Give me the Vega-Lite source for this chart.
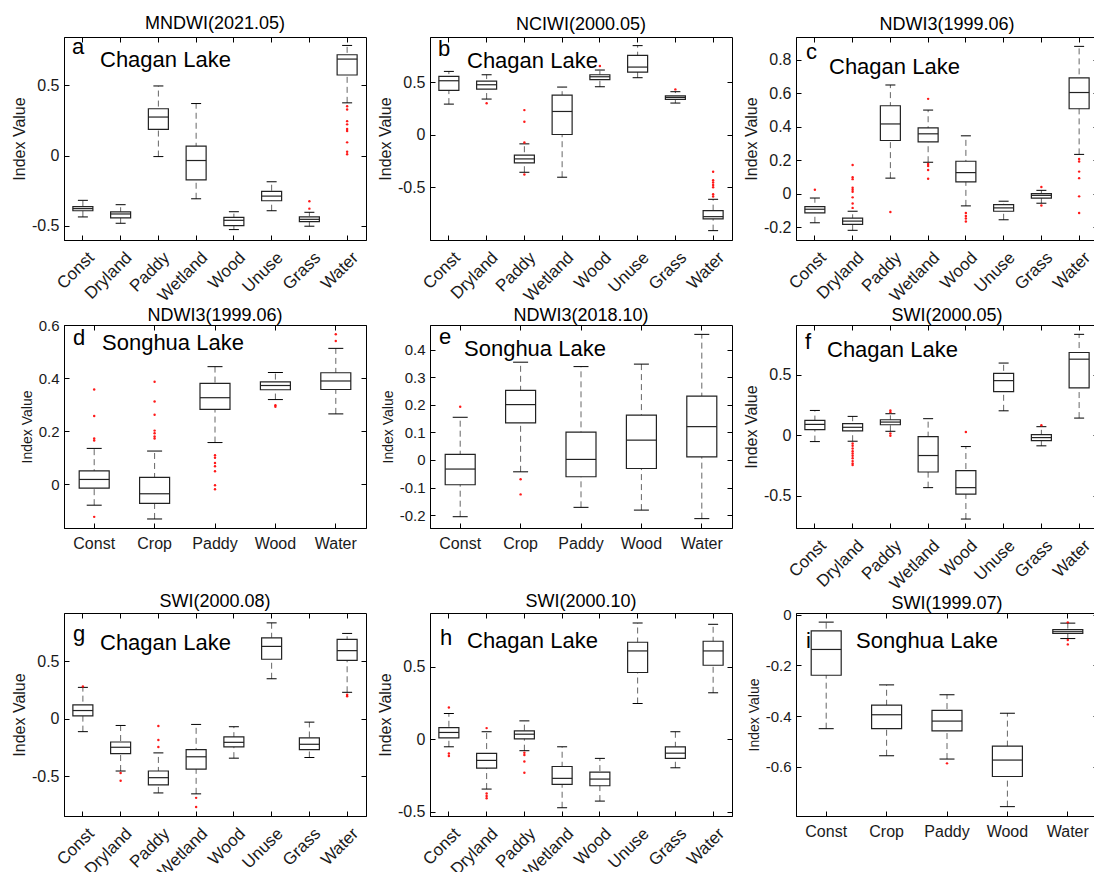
{
"$schema": "https://vega.github.io/schema/vega-lite/v6.json",
"padding": {"left": 10, "top": 14, "right": 0, "bottom": 0},
"background": "white",
"config": {
  "font": "Liberation Sans",
  "view": {"stroke": "#000", "strokeWidth": 1},
  "axis": {"grid": false, "domainColor": "#000", "tickColor": "#000", "tickSize": -5, "labelColor": "#1a1a1a", "titleColor": "#1a1a1a", "titleFontWeight": "normal", "labelFontSize": 16, "titleFontSize": 16, "labelPadding": 10, "titlePadding": 4, "labelFont": "Liberation Sans", "titleFont": "Liberation Sans"},
  "axisX": {"labelPadding": 12},
  "title": {"fontSize": 18, "fontWeight": "normal", "font": "Liberation Sans", "color": "#000", "offset": 0}
},
"datasets": {
"box": [
{"p":"a","c":"Const","lo":-0.436,"q1":-0.392,"md":-0.377,"q3":-0.363,"hi":-0.318},
{"p":"a","c":"Dryland","lo":-0.481,"q1":-0.443,"md":-0.415,"q3":-0.40,"hi":-0.349},
{"p":"a","c":"Paddy","lo":-0.007,"q1":0.186,"md":0.274,"q3":0.333,"hi":0.495},
{"p":"a","c":"Wetland","lo":-0.307,"q1":-0.172,"md":-0.035,"q3":0.068,"hi":0.37},
{"p":"a","c":"Wood","lo":-0.526,"q1":-0.498,"md":-0.46,"q3":-0.439,"hi":-0.399},
{"p":"a","c":"Unuse","lo":-0.392,"q1":-0.321,"md":-0.288,"q3":-0.255,"hi":-0.186},
{"p":"a","c":"Grass","lo":-0.502,"q1":-0.469,"md":-0.453,"q3":-0.436,"hi":-0.403},
{"p":"a","c":"Water","lo":0.375,"q1":0.573,"md":0.686,"q3":0.717,"hi":0.783},
{"p":"b","c":"Const","lo":0.292,"q1":0.422,"md":0.514,"q3":0.556,"hi":0.603},
{"p":"b","c":"Dryland","lo":0.34,"q1":0.435,"md":0.476,"q3":0.511,"hi":0.571},
{"p":"b","c":"Paddy","lo":-0.356,"q1":-0.267,"md":-0.229,"q3":-0.194,"hi":-0.086},
{"p":"b","c":"Wetland","lo":-0.403,"q1":0.003,"md":0.222,"q3":0.378,"hi":0.454},
{"p":"b","c":"Wood","lo":0.457,"q1":0.524,"md":0.552,"q3":0.571,"hi":0.616},
{"p":"b","c":"Unuse","lo":0.543,"q1":0.597,"md":0.644,"q3":0.756,"hi":0.848},
{"p":"b","c":"Grass","lo":0.302,"q1":0.337,"md":0.356,"q3":0.371,"hi":0.41},
{"p":"b","c":"Water","lo":-0.911,"q1":-0.80,"md":-0.778,"q3":-0.72,"hi":-0.613},
{"p":"c","c":"Const","lo":-0.174,"q1":-0.115,"md":-0.093,"q3":-0.077,"hi":-0.026},
{"p":"c","c":"Dryland","lo":-0.219,"q1":-0.184,"md":-0.164,"q3":-0.146,"hi":-0.105},
{"p":"c","c":"Paddy","lo":0.093,"q1":0.318,"md":0.417,"q3":0.526,"hi":0.65},
{"p":"c","c":"Wetland","lo":0.188,"q1":0.31,"md":0.358,"q3":0.393,"hi":0.5},
{"p":"c","c":"Wood","lo":-0.073,"q1":0.071,"md":0.126,"q3":0.194,"hi":0.346},
{"p":"c","c":"Unuse","lo":-0.156,"q1":-0.105,"md":-0.085,"q3":-0.065,"hi":-0.045},
{"p":"c","c":"Grass","lo":-0.057,"q1":-0.026,"md":-0.01,"q3":0.0,"hi":0.02},
{"p":"c","c":"Water","lo":0.235,"q1":0.508,"md":0.605,"q3":0.692,"hi":0.881},
{"p":"d","c":"Const","lo":-0.079,"q1":-0.015,"md":0.018,"q3":0.05,"hi":0.135},
{"p":"d","c":"Crop","lo":-0.131,"q1":-0.072,"md":-0.036,"q3":0.026,"hi":0.125},
{"p":"d","c":"Paddy","lo":0.157,"q1":0.282,"md":0.326,"q3":0.38,"hi":0.443},
{"p":"d","c":"Wood","lo":0.319,"q1":0.356,"md":0.372,"q3":0.386,"hi":0.421},
{"p":"d","c":"Water","lo":0.265,"q1":0.357,"md":0.389,"q3":0.42,"hi":0.512},
{"p":"e","c":"Const","lo":-0.206,"q1":-0.09,"md":-0.033,"q3":0.02,"hi":0.155},
{"p":"e","c":"Crop","lo":-0.043,"q1":0.135,"md":0.201,"q3":0.253,"hi":0.355},
{"p":"e","c":"Paddy","lo":-0.172,"q1":-0.061,"md":0.002,"q3":0.101,"hi":0.339},
{"p":"e","c":"Wood","lo":-0.182,"q1":-0.031,"md":0.072,"q3":0.163,"hi":0.348},
{"p":"e","c":"Water","lo":-0.213,"q1":0.011,"md":0.121,"q3":0.232,"hi":0.456},
{"p":"f","c":"Const","lo":-0.052,"q1":0.046,"md":0.09,"q3":0.123,"hi":0.205},
{"p":"f","c":"Dryland","lo":-0.049,"q1":0.036,"md":0.066,"q3":0.096,"hi":0.156},
{"p":"f","c":"Paddy","lo":0.033,"q1":0.087,"md":0.109,"q3":0.128,"hi":0.178},
{"p":"f","c":"Wetland","lo":-0.432,"q1":-0.303,"md":-0.167,"q3":-0.011,"hi":0.137},
{"p":"f","c":"Wood","lo":-0.691,"q1":-0.486,"md":-0.432,"q3":-0.292,"hi":-0.093},
{"p":"f","c":"Unuse","lo":0.202,"q1":0.361,"md":0.451,"q3":0.511,"hi":0.596},
{"p":"f","c":"Grass","lo":-0.087,"q1":-0.044,"md":-0.019,"q3":0.005,"hi":0.071},
{"p":"f","c":"Water","lo":0.142,"q1":0.391,"md":0.628,"q3":0.683,"hi":0.833},
{"p":"g","c":"Const","lo":-0.112,"q1":0.026,"md":0.072,"q3":0.121,"hi":0.274},
{"p":"g","c":"Dryland","lo":-0.455,"q1":-0.303,"md":-0.248,"q3":-0.202,"hi":-0.058},
{"p":"g","c":"Paddy","lo":-0.646,"q1":-0.576,"md":-0.513,"q3":-0.455,"hi":-0.297},
{"p":"g","c":"Wetland","lo":-0.654,"q1":-0.438,"md":-0.331,"q3":-0.268,"hi":-0.049},
{"p":"g","c":"Wood","lo":-0.343,"q1":-0.245,"md":-0.205,"q3":-0.158,"hi":-0.069},
{"p":"g","c":"Unuse","lo":0.349,"q1":0.519,"md":0.631,"q3":0.706,"hi":0.836},
{"p":"g","c":"Grass","lo":-0.337,"q1":-0.268,"md":-0.222,"q3":-0.167,"hi":-0.029},
{"p":"g","c":"Water","lo":0.231,"q1":0.51,"md":0.594,"q3":0.692,"hi":0.744},
{"p":"h","c":"Const","lo":-0.053,"q1":0.009,"md":0.046,"q3":0.08,"hi":0.177},
{"p":"h","c":"Dryland","lo":-0.345,"q1":-0.2,"md":-0.147,"q3":-0.099,"hi":0.051},
{"p":"h","c":"Paddy","lo":-0.08,"q1":0.002,"md":0.034,"q3":0.057,"hi":0.126},
{"p":"h","c":"Wetland","lo":-0.474,"q1":-0.313,"md":-0.271,"q3":-0.189,"hi":-0.053},
{"p":"h","c":"Wood","lo":-0.428,"q1":-0.322,"md":-0.276,"q3":-0.228,"hi":-0.133},
{"p":"h","c":"Unuse","lo":0.246,"q1":0.46,"md":0.609,"q3":0.669,"hi":0.802},
{"p":"h","c":"Grass","lo":-0.198,"q1":-0.133,"md":-0.097,"q3":-0.053,"hi":0.051},
{"p":"h","c":"Water","lo":0.32,"q1":0.51,"md":0.609,"q3":0.676,"hi":0.793},
{"p":"i","c":"Const","lo":-0.45,"q1":-0.239,"md":-0.137,"q3":-0.064,"hi":-0.029},
{"p":"i","c":"Crop","lo":-0.557,"q1":-0.45,"md":-0.395,"q3":-0.357,"hi":-0.277},
{"p":"i","c":"Paddy","lo":-0.57,"q1":-0.459,"md":-0.42,"q3":-0.378,"hi":-0.316},
{"p":"i","c":"Wood","lo":-0.758,"q1":-0.639,"md":-0.574,"q3":-0.519,"hi":-0.389},
{"p":"i","c":"Water","lo":-0.094,"q1":-0.074,"md":-0.067,"q3":-0.059,"hi":-0.033}
],
"out": [
{"p":"a","c":"Grass","v":-0.325},{"p":"a","c":"Grass","v":-0.377},
{"p":"a","c":"Water","v":0.351},{"p":"a","c":"Water","v":0.328},{"p":"a","c":"Water","v":0.245},{"p":"a","c":"Water","v":0.222},{"p":"a","c":"Water","v":0.189},{"p":"a","c":"Water","v":0.175},{"p":"a","c":"Water","v":0.094},{"p":"a","c":"Water","v":0.028},{"p":"a","c":"Water","v":0.009},
{"p":"b","c":"Dryland","v":0.30},
{"p":"b","c":"Paddy","v":0.235},{"p":"b","c":"Paddy","v":0.124},{"p":"b","c":"Paddy","v":-0.073},{"p":"b","c":"Paddy","v":-0.378},
{"p":"b","c":"Wood","v":0.654},{"p":"b","c":"Grass","v":0.432},
{"p":"b","c":"Water","v":-0.352},{"p":"b","c":"Water","v":-0.432},{"p":"b","c":"Water","v":-0.454},{"p":"b","c":"Water","v":-0.476},{"p":"b","c":"Water","v":-0.498},{"p":"b","c":"Water","v":-0.565},{"p":"b","c":"Water","v":-0.587},
{"p":"c","c":"Const","v":0.024},
{"p":"c","c":"Dryland","v":0.172},{"p":"c","c":"Dryland","v":0.099},{"p":"c","c":"Dryland","v":0.087},{"p":"c","c":"Dryland","v":0.036},{"p":"c","c":"Dryland","v":0.024},{"p":"c","c":"Dryland","v":0.012},{"p":"c","c":"Dryland","v":-0.022},{"p":"c","c":"Dryland","v":-0.059},{"p":"c","c":"Dryland","v":-0.085},
{"p":"c","c":"Paddy","v":-0.109},
{"p":"c","c":"Wetland","v":0.567},{"p":"c","c":"Wetland","v":0.178},{"p":"c","c":"Wetland","v":0.166},{"p":"c","c":"Wetland","v":0.142},{"p":"c","c":"Wetland","v":0.089},
{"p":"c","c":"Wood","v":-0.115},{"p":"c","c":"Wood","v":-0.134},{"p":"c","c":"Wood","v":-0.148},{"p":"c","c":"Wood","v":-0.166},
{"p":"c","c":"Grass","v":0.04},{"p":"c","c":"Grass","v":-0.071},
{"p":"c","c":"Water","v":0.208},{"p":"c","c":"Water","v":0.192},{"p":"c","c":"Water","v":0.132},{"p":"c","c":"Water","v":0.093},{"p":"c","c":"Water","v":-0.016},{"p":"c","c":"Water","v":-0.115},
{"p":"d","c":"Const","v":0.357},{"p":"d","c":"Const","v":0.257},{"p":"d","c":"Const","v":0.172},{"p":"d","c":"Const","v":0.165},{"p":"d","c":"Const","v":-0.123},
{"p":"d","c":"Crop","v":0.386},{"p":"d","c":"Crop","v":0.312},{"p":"d","c":"Crop","v":0.262},{"p":"d","c":"Crop","v":0.202},{"p":"d","c":"Crop","v":0.192},{"p":"d","c":"Crop","v":0.18},{"p":"d","c":"Crop","v":0.172},
{"p":"d","c":"Paddy","v":0.109},{"p":"d","c":"Paddy","v":0.1},{"p":"d","c":"Paddy","v":0.08},{"p":"d","c":"Paddy","v":0.068},{"p":"d","c":"Paddy","v":0.049},{"p":"d","c":"Paddy","v":-0.004},{"p":"d","c":"Paddy","v":-0.019},
{"p":"d","c":"Wood","v":0.298},{"p":"d","c":"Wood","v":0.292},
{"p":"d","c":"Water","v":0.565},{"p":"d","c":"Water","v":0.54},
{"p":"e","c":"Const","v":0.193},{"p":"e","c":"Crop","v":-0.07},{"p":"e","c":"Crop","v":-0.125},
{"p":"f","c":"Dryland","v":-0.068},{"p":"f","c":"Dryland","v":-0.087},{"p":"f","c":"Dryland","v":-0.109},{"p":"f","c":"Dryland","v":-0.131},{"p":"f","c":"Dryland","v":-0.15},{"p":"f","c":"Dryland","v":-0.169},{"p":"f","c":"Dryland","v":-0.19},{"p":"f","c":"Dryland","v":-0.213},{"p":"f","c":"Dryland","v":-0.232},{"p":"f","c":"Dryland","v":-0.246},
{"p":"f","c":"Paddy","v":0.205},{"p":"f","c":"Paddy","v":0.191},{"p":"f","c":"Paddy","v":0.014},{"p":"f","c":"Paddy","v":-0.003},
{"p":"f","c":"Wood","v":0.027},{"p":"f","c":"Grass","v":0.082},
{"p":"g","c":"Const","v":0.282},
{"p":"g","c":"Dryland","v":-0.473},{"p":"g","c":"Dryland","v":-0.539},
{"p":"g","c":"Paddy","v":-0.063},{"p":"g","c":"Paddy","v":-0.184},{"p":"g","c":"Paddy","v":-0.245},
{"p":"g","c":"Wetland","v":-0.689},{"p":"g","c":"Wetland","v":-0.769},
{"p":"g","c":"Water","v":0.21},{"p":"g","c":"Water","v":0.196},
{"p":"h","c":"Const","v":0.218},{"p":"h","c":"Const","v":-0.099},{"p":"h","c":"Const","v":-0.117},
{"p":"h","c":"Dryland","v":0.076},{"p":"h","c":"Dryland","v":-0.375},{"p":"h","c":"Dryland","v":-0.393},{"p":"h","c":"Dryland","v":-0.409},
{"p":"h","c":"Paddy","v":-0.094},{"p":"h","c":"Paddy","v":-0.11},{"p":"h","c":"Paddy","v":-0.154},{"p":"h","c":"Paddy","v":-0.232},
{"p":"i","c":"Paddy","v":-0.587},
{"p":"i","c":"Water","v":-0.03},{"p":"i","c":"Water","v":-0.1},{"p":"i","c":"Water","v":-0.117}
],
"lab": [
{"p":"a","t":"a","lake":"Chagan Lake"},{"p":"b","t":"b","lake":"Chagan Lake"},{"p":"c","t":"c","lake":"Chagan Lake"},
{"p":"d","t":"d","lake":"Songhua Lake"},{"p":"e","t":"e","lake":"Songhua Lake"},{"p":"f","t":"f","lake":"Chagan Lake"},
{"p":"g","t":"g","lake":"Chagan Lake"},{"p":"h","t":"h","lake":"Chagan Lake"},{"p":"i","t":"i","lake":"Songhua Lake"}
]
},
"columns": 3,
"spacing": {"row": 85, "column": 64},
"bounds": "flush",
"concat": [
{"width":302,"height":203,"title":{"text":"MNDWI(2021.05)","offset":3},"resolve":{"axis":{"x":"independent","y":"independent"}},
"layer":[
{"data":{"name":"box"},"transform":[{"filter":"datum.p=='a'"}],"mark":{"type":"rule","color":"#666","strokeDash":[6,4],"strokeWidth":1},
"encoding":{"x":{"field":"c","type":"nominal","scale":{"type":"band","domain":["Const","Dryland","Paddy","Wetland","Wood","Unuse","Grass","Water"],"paddingInner":0,"paddingOuter":0},"axis":{"title":null,"labelAngle":-45,"labelAlign":"right","labelBaseline":"top","labelFontSize":17,"labelOffset":3,"labelPadding":14}},
"y":{"field":"lo","type":"quantitative","scale":{"domain":[-0.6,0.843],"nice":false,"zero":false},"axis":{"title":"Index Value","values":[-0.5,0,0.5],"labelExpr":"toString(datum.value)"}},"y2":{"field":"hi"}}},
{"data":{"name":"box"},"transform":[{"filter":"datum.p=='a'"}],"mark":{"type":"bar","fill":"#fff","stroke":"#222","strokeWidth":1.2,"size":20,"opacity":1},
"encoding":{"x":{"field":"c","type":"nominal","axis":{"orient":"top","labels":false,"title":null,"domain":false}},"y":{"field":"q1","type":"quantitative","axis":{"orient":"right","labels":false,"title":null,"domain":false,"values":[-0.5,0,0.5]}},"y2":{"field":"q3"}}},
{"data":{"name":"box"},"transform":[{"filter":"datum.p=='a'"}],"mark":{"type":"tick","color":"#222","size":20,"thickness":1.2,"opacity":1},
"encoding":{"x":{"field":"c","type":"nominal","axis":null},"y":{"field":"md","type":"quantitative","axis":null}}},
{"data":{"name":"box"},"transform":[{"filter":"datum.p=='a'"},{"fold":["lo","hi"]}],"mark":{"type":"tick","color":"#000","size":10,"thickness":1,"opacity":1},
"encoding":{"x":{"field":"c","type":"nominal","axis":null},"y":{"field":"value","type":"quantitative","axis":null}}},
{"data":{"name":"out"},"transform":[{"filter":"datum.p=='a'"}],"mark":{"type":"point","filled":true,"color":"#ff0000","size":6,"opacity":0.9},
"encoding":{"x":{"field":"c","type":"nominal","axis":null},"y":{"field":"v","type":"quantitative","axis":null}}},
{"data":{"name":"lab"},"transform":[{"filter":"datum.p=='a'"}],"mark":{"type":"text","align":"left","baseline":"alphabetic","fontSize":22,"color":"#000","dx":8,"dy":17},
"encoding":{"x":{"datum":"Const","type":"nominal","bandPosition":0,"axis":null},"y":{"datum":0.843,"type":"quantitative","axis":null},"text":{"field":"t"}}},
{"data":{"name":"lab"},"transform":[{"filter":"datum.p=='a'"}],"mark":{"type":"text","align":"left","baseline":"alphabetic","fontSize":22,"color":"#000","dx":36,"dy":30},
"encoding":{"x":{"datum":"Const","type":"nominal","bandPosition":0,"axis":null},"y":{"datum":0.843,"type":"quantitative","axis":null},"text":{"field":"lake"}}}
]},
{"width":302,"height":203,"title":{"text":"NCIWI(2000.05)","offset":3},"resolve":{"axis":{"x":"independent","y":"independent"}},
"layer":[
{"data":{"name":"box"},"transform":[{"filter":"datum.p=='b'"}],"mark":{"type":"rule","color":"#666","strokeDash":[6,4],"strokeWidth":1},
"encoding":{"x":{"field":"c","type":"nominal","scale":{"type":"band","domain":["Const","Dryland","Paddy","Wetland","Wood","Unuse","Grass","Water"],"paddingInner":0,"paddingOuter":0},"axis":{"title":null,"labelAngle":-45,"labelAlign":"right","labelBaseline":"top","labelFontSize":17,"labelOffset":3,"labelPadding":14}},
"y":{"field":"lo","type":"quantitative","scale":{"domain":[-1.0,0.93],"nice":false,"zero":false},"axis":{"title":"Index Value","values":[-0.5,0,0.5],"labelExpr":"toString(datum.value)"}},"y2":{"field":"hi"}}},
{"data":{"name":"box"},"transform":[{"filter":"datum.p=='b'"}],"mark":{"type":"bar","fill":"#fff","stroke":"#222","strokeWidth":1.2,"size":20,"opacity":1},
"encoding":{"x":{"field":"c","type":"nominal","axis":{"orient":"top","labels":false,"title":null,"domain":false}},"y":{"field":"q1","type":"quantitative","axis":{"orient":"right","labels":false,"title":null,"domain":false,"values":[-0.5,0,0.5]}},"y2":{"field":"q3"}}},
{"data":{"name":"box"},"transform":[{"filter":"datum.p=='b'"}],"mark":{"type":"tick","color":"#222","size":20,"thickness":1.2,"opacity":1},
"encoding":{"x":{"field":"c","type":"nominal","axis":null},"y":{"field":"md","type":"quantitative","axis":null}}},
{"data":{"name":"box"},"transform":[{"filter":"datum.p=='b'"},{"fold":["lo","hi"]}],"mark":{"type":"tick","color":"#000","size":10,"thickness":1,"opacity":1},
"encoding":{"x":{"field":"c","type":"nominal","axis":null},"y":{"field":"value","type":"quantitative","axis":null}}},
{"data":{"name":"out"},"transform":[{"filter":"datum.p=='b'"}],"mark":{"type":"point","filled":true,"color":"#ff0000","size":6,"opacity":0.9},
"encoding":{"x":{"field":"c","type":"nominal","axis":null},"y":{"field":"v","type":"quantitative","axis":null}}},
{"data":{"name":"lab"},"transform":[{"filter":"datum.p=='b'"}],"mark":{"type":"text","align":"left","baseline":"alphabetic","fontSize":22,"color":"#000","dx":8,"dy":19},
"encoding":{"x":{"datum":"Const","type":"nominal","bandPosition":0,"axis":null},"y":{"datum":0.93,"type":"quantitative","axis":null},"text":{"field":"t"}}},
{"data":{"name":"lab"},"transform":[{"filter":"datum.p=='b'"}],"mark":{"type":"text","align":"left","baseline":"alphabetic","fontSize":22,"color":"#000","dx":37,"dy":31},
"encoding":{"x":{"datum":"Const","type":"nominal","bandPosition":0,"axis":null},"y":{"datum":0.93,"type":"quantitative","axis":null},"text":{"field":"lake"}}}
]},
{"width":302,"height":203,"title":{"text":"NDWI3(1999.06)","offset":3},"resolve":{"axis":{"x":"independent","y":"independent"}},
"layer":[
{"data":{"name":"box"},"transform":[{"filter":"datum.p=='c'"}],"mark":{"type":"rule","color":"#666","strokeDash":[6,4],"strokeWidth":1},
"encoding":{"x":{"field":"c","type":"nominal","scale":{"type":"band","domain":["Const","Dryland","Paddy","Wetland","Wood","Unuse","Grass","Water"],"paddingInner":0,"paddingOuter":0},"axis":{"title":null,"labelAngle":-45,"labelAlign":"right","labelBaseline":"top","labelFontSize":17,"labelOffset":3,"labelPadding":14}},
"y":{"field":"lo","type":"quantitative","scale":{"domain":[-0.277,0.937],"nice":false,"zero":false},"axis":{"title":"Index Value","values":[-0.2,0,0.2,0.4,0.6,0.8],"labelExpr":"toString(datum.value)"}},"y2":{"field":"hi"}}},
{"data":{"name":"box"},"transform":[{"filter":"datum.p=='c'"}],"mark":{"type":"bar","fill":"#fff","stroke":"#222","strokeWidth":1.2,"size":20,"opacity":1},
"encoding":{"x":{"field":"c","type":"nominal","axis":{"orient":"top","labels":false,"title":null,"domain":false}},"y":{"field":"q1","type":"quantitative","axis":{"orient":"right","labels":false,"title":null,"domain":false,"values":[-0.2,0,0.2,0.4,0.6,0.8]}},"y2":{"field":"q3"}}},
{"data":{"name":"box"},"transform":[{"filter":"datum.p=='c'"}],"mark":{"type":"tick","color":"#222","size":20,"thickness":1.2,"opacity":1},
"encoding":{"x":{"field":"c","type":"nominal","axis":null},"y":{"field":"md","type":"quantitative","axis":null}}},
{"data":{"name":"box"},"transform":[{"filter":"datum.p=='c'"},{"fold":["lo","hi"]}],"mark":{"type":"tick","color":"#000","size":10,"thickness":1,"opacity":1},
"encoding":{"x":{"field":"c","type":"nominal","axis":null},"y":{"field":"value","type":"quantitative","axis":null}}},
{"data":{"name":"out"},"transform":[{"filter":"datum.p=='c'"}],"mark":{"type":"point","filled":true,"color":"#ff0000","size":6,"opacity":0.9},
"encoding":{"x":{"field":"c","type":"nominal","axis":null},"y":{"field":"v","type":"quantitative","axis":null}}},
{"data":{"name":"lab"},"transform":[{"filter":"datum.p=='c'"}],"mark":{"type":"text","align":"left","baseline":"alphabetic","fontSize":22,"color":"#000","dx":10,"dy":22},
"encoding":{"x":{"datum":"Const","type":"nominal","bandPosition":0,"axis":null},"y":{"datum":0.937,"type":"quantitative","axis":null},"text":{"field":"t"}}},
{"data":{"name":"lab"},"transform":[{"filter":"datum.p=='c'"}],"mark":{"type":"text","align":"left","baseline":"alphabetic","fontSize":22,"color":"#000","dx":33,"dy":37},
"encoding":{"x":{"datum":"Const","type":"nominal","bandPosition":0,"axis":null},"y":{"datum":0.937,"type":"quantitative","axis":null},"text":{"field":"lake"}}}
]},
{"width":302,"height":203,"title":{"text":"NDWI3(1999.06)","offset":-7},"resolve":{"axis":{"x":"independent","y":"independent"}},
"layer":[
{"data":{"name":"box"},"transform":[{"filter":"datum.p=='d'"}],"mark":{"type":"rule","color":"#666","strokeDash":[6,4],"strokeWidth":1},
"encoding":{"x":{"field":"c","type":"nominal","scale":{"type":"band","domain":["Const","Crop","Paddy","Wood","Water"],"paddingInner":0,"paddingOuter":0},"axis":{"title":null,"labelAngle":0,"labelAlign":"center","labelBaseline":"top","labelFontSize":16}},
"y":{"field":"lo","type":"quantitative","scale":{"domain":[-0.165,0.6],"nice":false,"zero":false},"axis":{"title":"Index Value","titleFontSize":14,"labelFontSize":15,"values":[0,0.2,0.4,0.6],"labelExpr":"toString(datum.value)"}},"y2":{"field":"hi"}}},
{"data":{"name":"box"},"transform":[{"filter":"datum.p=='d'"}],"mark":{"type":"bar","fill":"#fff","stroke":"#222","strokeWidth":1.2,"size":30,"opacity":1},
"encoding":{"x":{"field":"c","type":"nominal","axis":{"orient":"top","labels":false,"title":null,"domain":false}},"y":{"field":"q1","type":"quantitative","axis":{"orient":"right","labels":false,"title":null,"domain":false,"values":[0,0.2,0.4,0.6]}},"y2":{"field":"q3"}}},
{"data":{"name":"box"},"transform":[{"filter":"datum.p=='d'"}],"mark":{"type":"tick","color":"#222","size":30,"thickness":1.2,"opacity":1},
"encoding":{"x":{"field":"c","type":"nominal","axis":null},"y":{"field":"md","type":"quantitative","axis":null}}},
{"data":{"name":"box"},"transform":[{"filter":"datum.p=='d'"},{"fold":["lo","hi"]}],"mark":{"type":"tick","color":"#000","size":15,"thickness":1,"opacity":1},
"encoding":{"x":{"field":"c","type":"nominal","axis":null},"y":{"field":"value","type":"quantitative","axis":null}}},
{"data":{"name":"out"},"transform":[{"filter":"datum.p=='d'"}],"mark":{"type":"point","filled":true,"color":"#ff0000","size":6,"opacity":0.9},
"encoding":{"x":{"field":"c","type":"nominal","axis":null},"y":{"field":"v","type":"quantitative","axis":null}}},
{"data":{"name":"lab"},"transform":[{"filter":"datum.p=='d'"}],"mark":{"type":"text","align":"left","baseline":"alphabetic","fontSize":22,"color":"#000","dx":9,"dy":20},
"encoding":{"x":{"datum":"Const","type":"nominal","bandPosition":0,"axis":null},"y":{"datum":0.6,"type":"quantitative","axis":null},"text":{"field":"t"}}},
{"data":{"name":"lab"},"transform":[{"filter":"datum.p=='d'"}],"mark":{"type":"text","align":"left","baseline":"alphabetic","fontSize":22,"color":"#000","dx":38,"dy":25},
"encoding":{"x":{"datum":"Const","type":"nominal","bandPosition":0,"axis":null},"y":{"datum":0.6,"type":"quantitative","axis":null},"text":{"field":"lake"}}}
]},
{"width":302,"height":203,"title":{"text":"NDWI3(2018.10)","offset":0},"resolve":{"axis":{"x":"independent","y":"independent"}},
"layer":[
{"data":{"name":"box"},"transform":[{"filter":"datum.p=='e'"}],"mark":{"type":"rule","color":"#666","strokeDash":[6,4],"strokeWidth":1},
"encoding":{"x":{"field":"c","type":"nominal","scale":{"type":"band","domain":["Const","Crop","Paddy","Wood","Water"],"paddingInner":0,"paddingOuter":0},"axis":{"title":null,"labelAngle":0,"labelAlign":"center","labelBaseline":"top","labelFontSize":16}},
"y":{"field":"lo","type":"quantitative","scale":{"domain":[-0.247,0.49],"nice":false,"zero":false},"axis":{"title":"Index Value","titleFontSize":14,"labelFontSize":15,"values":[-0.2,-0.1,0,0.1,0.2,0.3,0.4],"labelExpr":"toString(datum.value)"}},"y2":{"field":"hi"}}},
{"data":{"name":"box"},"transform":[{"filter":"datum.p=='e'"}],"mark":{"type":"bar","fill":"#fff","stroke":"#222","strokeWidth":1.2,"size":30,"opacity":1},
"encoding":{"x":{"field":"c","type":"nominal","axis":{"orient":"top","labels":false,"title":null,"domain":false}},"y":{"field":"q1","type":"quantitative","axis":{"orient":"right","labels":false,"title":null,"domain":false,"values":[-0.2,-0.1,0,0.1,0.2,0.3,0.4]}},"y2":{"field":"q3"}}},
{"data":{"name":"box"},"transform":[{"filter":"datum.p=='e'"}],"mark":{"type":"tick","color":"#222","size":30,"thickness":1.2,"opacity":1},
"encoding":{"x":{"field":"c","type":"nominal","axis":null},"y":{"field":"md","type":"quantitative","axis":null}}},
{"data":{"name":"box"},"transform":[{"filter":"datum.p=='e'"},{"fold":["lo","hi"]}],"mark":{"type":"tick","color":"#000","size":15,"thickness":1,"opacity":1},
"encoding":{"x":{"field":"c","type":"nominal","axis":null},"y":{"field":"value","type":"quantitative","axis":null}}},
{"data":{"name":"out"},"transform":[{"filter":"datum.p=='e'"}],"mark":{"type":"point","filled":true,"color":"#ff0000","size":6,"opacity":0.9},
"encoding":{"x":{"field":"c","type":"nominal","axis":null},"y":{"field":"v","type":"quantitative","axis":null}}},
{"data":{"name":"lab"},"transform":[{"filter":"datum.p=='e'"}],"mark":{"type":"text","align":"left","baseline":"alphabetic","fontSize":22,"color":"#000","dx":9,"dy":19},
"encoding":{"x":{"datum":"Const","type":"nominal","bandPosition":0,"axis":null},"y":{"datum":0.49,"type":"quantitative","axis":null},"text":{"field":"t"}}},
{"data":{"name":"lab"},"transform":[{"filter":"datum.p=='e'"}],"mark":{"type":"text","align":"left","baseline":"alphabetic","fontSize":22,"color":"#000","dx":34,"dy":31},
"encoding":{"x":{"datum":"Const","type":"nominal","bandPosition":0,"axis":null},"y":{"datum":0.49,"type":"quantitative","axis":null},"text":{"field":"lake"}}}
]},
{"width":302,"height":203,"title":{"text":"SWI(2000.05)","offset":0},"resolve":{"axis":{"x":"independent","y":"independent"}},
"layer":[
{"data":{"name":"box"},"transform":[{"filter":"datum.p=='f'"}],"mark":{"type":"rule","color":"#666","strokeDash":[6,4],"strokeWidth":1},
"encoding":{"x":{"field":"c","type":"nominal","scale":{"type":"band","domain":["Const","Dryland","Paddy","Wetland","Wood","Unuse","Grass","Water"],"paddingInner":0,"paddingOuter":0},"axis":{"title":null,"labelAngle":-45,"labelAlign":"right","labelBaseline":"top","labelFontSize":17,"labelOffset":3,"labelPadding":14}},
"y":{"field":"lo","type":"quantitative","scale":{"domain":[-0.765,0.91],"nice":false,"zero":false},"axis":{"title":"Index Value","values":[-0.5,0,0.5],"labelExpr":"toString(datum.value)"}},"y2":{"field":"hi"}}},
{"data":{"name":"box"},"transform":[{"filter":"datum.p=='f'"}],"mark":{"type":"bar","fill":"#fff","stroke":"#222","strokeWidth":1.2,"size":20,"opacity":1},
"encoding":{"x":{"field":"c","type":"nominal","axis":{"orient":"top","labels":false,"title":null,"domain":false}},"y":{"field":"q1","type":"quantitative","axis":{"orient":"right","labels":false,"title":null,"domain":false,"values":[-0.5,0,0.5]}},"y2":{"field":"q3"}}},
{"data":{"name":"box"},"transform":[{"filter":"datum.p=='f'"}],"mark":{"type":"tick","color":"#222","size":20,"thickness":1.2,"opacity":1},
"encoding":{"x":{"field":"c","type":"nominal","axis":null},"y":{"field":"md","type":"quantitative","axis":null}}},
{"data":{"name":"box"},"transform":[{"filter":"datum.p=='f'"},{"fold":["lo","hi"]}],"mark":{"type":"tick","color":"#000","size":10,"thickness":1,"opacity":1},
"encoding":{"x":{"field":"c","type":"nominal","axis":null},"y":{"field":"value","type":"quantitative","axis":null}}},
{"data":{"name":"out"},"transform":[{"filter":"datum.p=='f'"}],"mark":{"type":"point","filled":true,"color":"#ff0000","size":6,"opacity":0.9},
"encoding":{"x":{"field":"c","type":"nominal","axis":null},"y":{"field":"v","type":"quantitative","axis":null}}},
{"data":{"name":"lab"},"transform":[{"filter":"datum.p=='f'"}],"mark":{"type":"text","align":"left","baseline":"alphabetic","fontSize":22,"color":"#000","dx":9,"dy":24},
"encoding":{"x":{"datum":"Const","type":"nominal","bandPosition":0,"axis":null},"y":{"datum":0.91,"type":"quantitative","axis":null},"text":{"field":"t"}}},
{"data":{"name":"lab"},"transform":[{"filter":"datum.p=='f'"}],"mark":{"type":"text","align":"left","baseline":"alphabetic","fontSize":22,"color":"#000","dx":31,"dy":32},
"encoding":{"x":{"datum":"Const","type":"nominal","bandPosition":0,"axis":null},"y":{"datum":0.91,"type":"quantitative","axis":null},"text":{"field":"lake"}}}
]},
{"width":302,"height":203,"title":{"text":"SWI(2000.08)","offset":2},"resolve":{"axis":{"x":"independent","y":"independent"}},
"layer":[
{"data":{"name":"box"},"transform":[{"filter":"datum.p=='g'"}],"mark":{"type":"rule","color":"#666","strokeDash":[6,4],"strokeWidth":1},
"encoding":{"x":{"field":"c","type":"nominal","scale":{"type":"band","domain":["Const","Dryland","Paddy","Wetland","Wood","Unuse","Grass","Water"],"paddingInner":0,"paddingOuter":0},"axis":{"title":null,"labelAngle":-45,"labelAlign":"right","labelBaseline":"top","labelFontSize":17,"labelOffset":3,"labelPadding":14}},
"y":{"field":"lo","type":"quantitative","scale":{"domain":[-0.847,0.922],"nice":false,"zero":false},"axis":{"title":"Index Value","values":[-0.5,0,0.5],"labelExpr":"toString(datum.value)"}},"y2":{"field":"hi"}}},
{"data":{"name":"box"},"transform":[{"filter":"datum.p=='g'"}],"mark":{"type":"bar","fill":"#fff","stroke":"#222","strokeWidth":1.2,"size":20,"opacity":1},
"encoding":{"x":{"field":"c","type":"nominal","axis":{"orient":"top","labels":false,"title":null,"domain":false}},"y":{"field":"q1","type":"quantitative","axis":{"orient":"right","labels":false,"title":null,"domain":false,"values":[-0.5,0,0.5]}},"y2":{"field":"q3"}}},
{"data":{"name":"box"},"transform":[{"filter":"datum.p=='g'"}],"mark":{"type":"tick","color":"#222","size":20,"thickness":1.2,"opacity":1},
"encoding":{"x":{"field":"c","type":"nominal","axis":null},"y":{"field":"md","type":"quantitative","axis":null}}},
{"data":{"name":"box"},"transform":[{"filter":"datum.p=='g'"},{"fold":["lo","hi"]}],"mark":{"type":"tick","color":"#000","size":10,"thickness":1,"opacity":1},
"encoding":{"x":{"field":"c","type":"nominal","axis":null},"y":{"field":"value","type":"quantitative","axis":null}}},
{"data":{"name":"out"},"transform":[{"filter":"datum.p=='g'"}],"mark":{"type":"point","filled":true,"color":"#ff0000","size":6,"opacity":0.9},
"encoding":{"x":{"field":"c","type":"nominal","axis":null},"y":{"field":"v","type":"quantitative","axis":null}}},
{"data":{"name":"lab"},"transform":[{"filter":"datum.p=='g'"}],"mark":{"type":"text","align":"left","baseline":"alphabetic","fontSize":22,"color":"#000","dx":9,"dy":28},
"encoding":{"x":{"datum":"Const","type":"nominal","bandPosition":0,"axis":null},"y":{"datum":0.922,"type":"quantitative","axis":null},"text":{"field":"t"}}},
{"data":{"name":"lab"},"transform":[{"filter":"datum.p=='g'"}],"mark":{"type":"text","align":"left","baseline":"alphabetic","fontSize":22,"color":"#000","dx":36,"dy":37},
"encoding":{"x":{"datum":"Const","type":"nominal","bandPosition":0,"axis":null},"y":{"datum":0.922,"type":"quantitative","axis":null},"text":{"field":"lake"}}}
]},
{"width":302,"height":203,"title":{"text":"SWI(2000.10)","offset":2},"resolve":{"axis":{"x":"independent","y":"independent"}},
"layer":[
{"data":{"name":"box"},"transform":[{"filter":"datum.p=='h'"}],"mark":{"type":"rule","color":"#666","strokeDash":[6,4],"strokeWidth":1},
"encoding":{"x":{"field":"c","type":"nominal","scale":{"type":"band","domain":["Const","Dryland","Paddy","Wetland","Wood","Unuse","Grass","Water"],"paddingInner":0,"paddingOuter":0},"axis":{"title":null,"labelAngle":-45,"labelAlign":"right","labelBaseline":"top","labelFontSize":17,"labelOffset":3,"labelPadding":14}},
"y":{"field":"lo","type":"quantitative","scale":{"domain":[-0.531,0.871],"nice":false,"zero":false},"axis":{"title":"Index Value","values":[-0.5,0,0.5],"labelExpr":"toString(datum.value)"}},"y2":{"field":"hi"}}},
{"data":{"name":"box"},"transform":[{"filter":"datum.p=='h'"}],"mark":{"type":"bar","fill":"#fff","stroke":"#222","strokeWidth":1.2,"size":20,"opacity":1},
"encoding":{"x":{"field":"c","type":"nominal","axis":{"orient":"top","labels":false,"title":null,"domain":false}},"y":{"field":"q1","type":"quantitative","axis":{"orient":"right","labels":false,"title":null,"domain":false,"values":[-0.5,0,0.5]}},"y2":{"field":"q3"}}},
{"data":{"name":"box"},"transform":[{"filter":"datum.p=='h'"}],"mark":{"type":"tick","color":"#222","size":20,"thickness":1.2,"opacity":1},
"encoding":{"x":{"field":"c","type":"nominal","axis":null},"y":{"field":"md","type":"quantitative","axis":null}}},
{"data":{"name":"box"},"transform":[{"filter":"datum.p=='h'"},{"fold":["lo","hi"]}],"mark":{"type":"tick","color":"#000","size":10,"thickness":1,"opacity":1},
"encoding":{"x":{"field":"c","type":"nominal","axis":null},"y":{"field":"value","type":"quantitative","axis":null}}},
{"data":{"name":"out"},"transform":[{"filter":"datum.p=='h'"}],"mark":{"type":"point","filled":true,"color":"#ff0000","size":6,"opacity":0.9},
"encoding":{"x":{"field":"c","type":"nominal","axis":null},"y":{"field":"v","type":"quantitative","axis":null}}},
{"data":{"name":"lab"},"transform":[{"filter":"datum.p=='h'"}],"mark":{"type":"text","align":"left","baseline":"alphabetic","fontSize":22,"color":"#000","dx":10,"dy":32},
"encoding":{"x":{"datum":"Const","type":"nominal","bandPosition":0,"axis":null},"y":{"datum":0.871,"type":"quantitative","axis":null},"text":{"field":"t"}}},
{"data":{"name":"lab"},"transform":[{"filter":"datum.p=='h'"}],"mark":{"type":"text","align":"left","baseline":"alphabetic","fontSize":22,"color":"#000","dx":37,"dy":35},
"encoding":{"x":{"datum":"Const","type":"nominal","bandPosition":0,"axis":null},"y":{"datum":0.871,"type":"quantitative","axis":null},"text":{"field":"lake"}}}
]},
{"width":302,"height":203,"title":{"text":"SWI(1999.07)","offset":-5},"resolve":{"axis":{"x":"independent","y":"independent"}},
"layer":[
{"data":{"name":"box"},"transform":[{"filter":"datum.p=='i'"}],"mark":{"type":"rule","color":"#666","strokeDash":[6,4],"strokeWidth":1},
"encoding":{"x":{"field":"c","type":"nominal","scale":{"type":"band","domain":["Const","Crop","Paddy","Wood","Water"],"paddingInner":0,"paddingOuter":0},"axis":{"title":null,"labelAngle":0,"labelAlign":"center","labelBaseline":"top","labelFontSize":16}},
"y":{"field":"lo","type":"quantitative","scale":{"domain":[-0.795,0.007],"nice":false,"zero":false},"axis":{"title":"Index Value","titleFontSize":14,"labelFontSize":15,"values":[-0.6,-0.4,-0.2,0],"labelExpr":"toString(datum.value)"}},"y2":{"field":"hi"}}},
{"data":{"name":"box"},"transform":[{"filter":"datum.p=='i'"}],"mark":{"type":"bar","fill":"#fff","stroke":"#222","strokeWidth":1.2,"size":30,"opacity":1},
"encoding":{"x":{"field":"c","type":"nominal","axis":{"orient":"top","labels":false,"title":null,"domain":false}},"y":{"field":"q1","type":"quantitative","axis":{"orient":"right","labels":false,"title":null,"domain":false,"values":[-0.6,-0.4,-0.2,0]}},"y2":{"field":"q3"}}},
{"data":{"name":"box"},"transform":[{"filter":"datum.p=='i'"}],"mark":{"type":"tick","color":"#222","size":30,"thickness":1.2,"opacity":1},
"encoding":{"x":{"field":"c","type":"nominal","axis":null},"y":{"field":"md","type":"quantitative","axis":null}}},
{"data":{"name":"box"},"transform":[{"filter":"datum.p=='i'"},{"fold":["lo","hi"]}],"mark":{"type":"tick","color":"#000","size":15,"thickness":1,"opacity":1},
"encoding":{"x":{"field":"c","type":"nominal","axis":null},"y":{"field":"value","type":"quantitative","axis":null}}},
{"data":{"name":"out"},"transform":[{"filter":"datum.p=='i'"}],"mark":{"type":"point","filled":true,"color":"#ff0000","size":6,"opacity":0.9},
"encoding":{"x":{"field":"c","type":"nominal","axis":null},"y":{"field":"v","type":"quantitative","axis":null}}},
{"data":{"name":"lab"},"transform":[{"filter":"datum.p=='i'"}],"mark":{"type":"text","align":"left","baseline":"alphabetic","fontSize":22,"color":"#000","dx":10,"dy":35},
"encoding":{"x":{"datum":"Const","type":"nominal","bandPosition":0,"axis":null},"y":{"datum":0.007,"type":"quantitative","axis":null},"text":{"field":"t"}}},
{"data":{"name":"lab"},"transform":[{"filter":"datum.p=='i'"}],"mark":{"type":"text","align":"left","baseline":"alphabetic","fontSize":22,"color":"#000","dx":60,"dy":35},
"encoding":{"x":{"datum":"Const","type":"nominal","bandPosition":0,"axis":null},"y":{"datum":0.007,"type":"quantitative","axis":null},"text":{"field":"lake"}}}
]}
]
}
